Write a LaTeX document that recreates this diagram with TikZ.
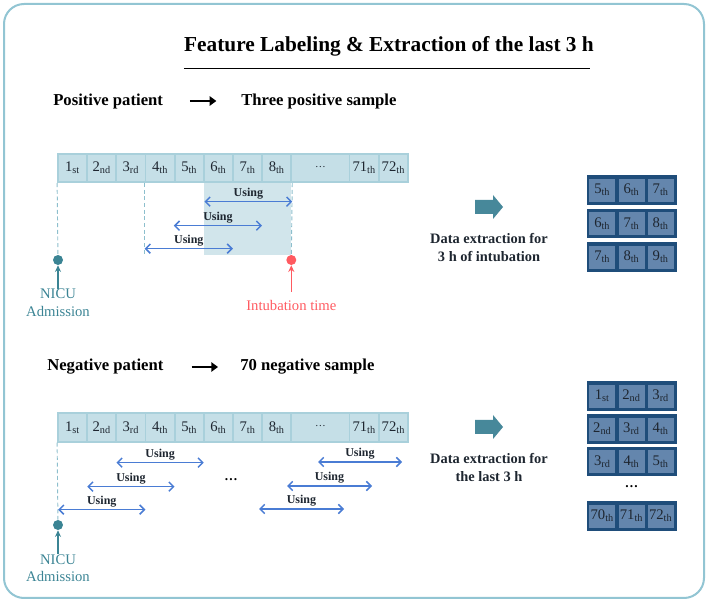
\documentclass[tikz,border=0pt]{standalone}
\usepackage{fontspec}
\setmainfont{Liberation Serif}
\usepackage{tikz}
\usetikzlibrary{arrows.meta,positioning,calc}
\definecolor{cFrame}{HTML}{92C5D3}
\definecolor{cCell}{HTML}{C5DFE7}
\definecolor{cCellLine}{HTML}{A9D0DB}
\definecolor{cShade}{HTML}{D1E5EB}
\definecolor{cGuide}{HTML}{8DBFCD}
\definecolor{cTeal}{HTML}{3B8494}
\definecolor{cRed}{HTML}{FF5A60}
\definecolor{cUse}{HTML}{4A7CD4}
\definecolor{cBoxLine}{HTML}{1F4D7A}
\definecolor{cBoxFill}{HTML}{6486AD}
\definecolor{cBlock}{HTML}{47889A}
\definecolor{cInk}{HTML}{1E2630}
\newcommand{\hrs}[2]{#1\textsubscript{#2}}
\tikzset{
  cell/.style={draw=cCellLine,fill=cCell,line width=1.3pt,minimum width=21.9pt,minimum height=21.4pt,inner sep=0pt,font=\fontsize{11}{11}\selectfont,text=cInk},
  head/.style={font=\fontsize{12.5}{14}\selectfont\bfseries,inner sep=0pt,anchor=west},
  harr/.style={-{Triangle[length=5pt,width=7pt]},line width=2pt,color=black},
  guide/.style={draw=cGuide,dashed,dash pattern=on 3pt off 2pt,line width=0.7pt},
  usearr/.style={{Straight Barb[length=3.5pt,width=7pt]}-{Straight Barb[length=3.5pt,width=7pt]},line width=1.1pt,color=cUse},
  uselbl/.style={above,inner sep=1.5pt,font=\fontsize{9}{9}\selectfont\bfseries,text=cInk},
  mark/.style={circle,fill=#1,inner sep=0pt,minimum size=7.5pt},
  tarr/.style={-{Stealth[length=5pt,width=4.5pt]},line width=1.1pt,color=#1},
  note/.style={font=\fontsize{11}{13.1}\selectfont,text=#1,align=center,inner sep=0pt},
  xtxt/.style={font=\fontsize{10.8}{13.5}\selectfont\bfseries,align=center,text=cInk},
  srow/.style={draw=cBoxLine,fill=cBoxLine,line width=1pt,minimum width=66.5pt,minimum height=21pt,inner sep=0pt},
  scell/.style={draw=cBoxLine,fill=cBoxFill,line width=0.6pt,minimum width=20.2pt,minimum height=18pt,inner sep=0pt,font=\fontsize{11}{11}\selectfont,text=cInk},
}
\begin{document}
\begin{tikzpicture}[x=0.75pt,y=-0.75pt]
  \useasboundingbox (0,0) rectangle (708,602);
  \draw[cFrame,line width=1.5pt,rounded corners=15pt] (4,4) rectangle (704,598);

  % title
  \node[font=\fontsize{16}{18}\selectfont\bfseries,inner sep=0pt] (title) at (389,46) {Feature Labeling \& Extraction of the last 3 h};
  \draw[line width=0.6pt] ($(title.south west)+(0,12)$) -- ($(title.south east)+(-4,12)$);

  % ---- positive patient ----
  \node[head] (pospat) at (53,101) {Positive patient};
  \node[head] (possmp) at (241,101) {Three positive sample};
  \draw[harr,shorten <=20pt,shorten >=18.5pt] (pospat.east) -- (possmp.west);

  \fill[cShade] (203.8,182.5) rectangle (291.3,255);
  \foreach \i/\s in {1/st,2/nd,3/rd,4/th,5/th,6/th,7/th,8/th}
    \node[cell] (p\i) at ({58+29.17*(\i-0.5)},168) {\hrs{\i}{\s}};
  \node[cell,minimum width=43.8pt] (pdots) at (320.5,168) {\raisebox{2pt}{\fontsize{8}{8}\selectfont\dots}};
  \node[cell] (p71) at (364.2,168) {\hrs{71}{th}};
  \node[cell] (p72) at (393.4,168) {\hrs{72}{th}};

  \node[mark=cTeal] (padm) at (58,260) {};
  \node[mark=cRed] (pint) at (291.3,260) {};
  \draw[guide] (p1.south west) -- (padm);
  \draw[guide] (p4.south west) -- ++(0,73);
  \draw[guide] (p8.south east) -- (pint);

  \draw[usearr] ($(p6.south west)+(1.5,18.5)$) -- node[uselbl] {Using} ($(p8.south east)+(0,18.5)$);
  \draw[usearr] ($(p5.south west)+(0,42.5)$) -- node[uselbl] {Using} ($(p7.south east)+(-1,42.5)$);
  \draw[usearr] ($(p4.south west)+(0,65.5)$) -- node[uselbl] {Using} ($(p6.south east)+(-1,65.5)$);

  \node[note=cTeal] (padmlbl) at (58,302.5) {NICU\\Admission};
  \draw[tarr=cTeal] (padmlbl.north) -- (padm);
  \node[note=cRed] (pintlbl) at (291.3,305) {Intubation time};
  \draw[tarr=cRed] ($(pintlbl.north)+(0,-8)$) -- (pint);

  \fill[cBlock] (475,200) -- ++(18,0) -- ++(0,-5) -- ++(10,12) -- ++(-10,12) -- ++(0,-5) -- ++(-18,0) -- cycle;
  \node[xtxt] (pxtxt) at (489,248) {Data extraction for\\3 h of intubation};

  \foreach \k/\yy/\la/\lb/\lc in {1/190/\hrs{5}{th}/\hrs{6}{th}/\hrs{7}{th},
                                  2/223.5/\hrs{6}{th}/\hrs{7}{th}/\hrs{8}{th},
                                  3/257/\hrs{7}{th}/\hrs{8}{th}/\hrs{9}{th}} {
    \node[srow] (ps\k) at (631.5,\yy) {};
    \node[scell] (ps\k-a) at (602.3,\yy) {\la};
    \node[scell] (ps\k-b) at (631.5,\yy) {\lb};
    \node[scell] (ps\k-c) at (660.7,\yy) {\lc};
  }

  % ---- negative patient ----
  \node[head] (negpat) at (47,367) {Negative patient};
  \node[head] (negsmp) at (240,367) {70 negative sample};
  \draw[harr,shorten <=21pt,shorten >=16.5pt] (negpat.east) -- (negsmp.west);

  \foreach \i/\s in {1/st,2/nd,3/rd,4/th,5/th,6/th,7/th,8/th}
    \node[cell] (n\i) at ({58+29.17*(\i-0.5)},427.5) {\hrs{\i}{\s}};
  \node[cell,minimum width=43.8pt] (ndots) at (320.5,427.5) {\raisebox{2pt}{\fontsize{8}{8}\selectfont\dots}};
  \node[cell] (n71) at (364.2,427.5) {\hrs{71}{th}};
  \node[cell] (n72) at (393.4,427.5) {\hrs{72}{th}};

  \node[mark=cTeal] (nadm) at (58,525) {};
  \draw[guide] (n1.south west) -- (nadm);

  \draw[usearr] ($(n3.south west)+(1,20)$) -- node[uselbl] {Using} ($(n5.south east)+(-1,20)$);
  \draw[usearr] ($(n2.south west)+(1,44)$) -- node[uselbl] {Using} ($(n4.south east)+(-1,44)$);
  \draw[usearr] ($(n1.south west)+(1,67)$) -- node[uselbl] {Using} ($(n3.south east)+(-1,67)$);
  \node[font=\bfseries] (ngap) at (231,480) {\dots};
  \coordinate (nr1a) at (318,462); \coordinate (nr1b) at (402,462);
  \coordinate (nr2a) at (287,486); \coordinate (nr2b) at (372,486);
  \coordinate (nr3a) at (259,509); \coordinate (nr3b) at (344,509);
  \draw[usearr] (nr1a) -- node[uselbl] {Using} (nr1b);
  \draw[usearr] (nr2a) -- node[uselbl] {Using} (nr2b);
  \draw[usearr] (nr3a) -- node[uselbl] {Using} (nr3b);

  \node[note=cTeal] (nadmlbl) at (58,568) {NICU\\Admission};
  \draw[tarr=cTeal] (nadmlbl.north) -- (nadm);

  \fill[cBlock] (475,420) -- ++(18,0) -- ++(0,-5) -- ++(10,12) -- ++(-10,12) -- ++(0,-5) -- ++(-18,0) -- cycle;
  \node[xtxt] (nxtxt) at (489,467.5) {Data extraction for\\the last 3 h};

  \foreach \k/\yy/\la/\lb/\lc in {1/396/\hrs{1}{st}/\hrs{2}{nd}/\hrs{3}{rd},
                                  2/429/\hrs{2}{nd}/\hrs{3}{rd}/\hrs{4}{th},
                                  3/461.5/\hrs{3}{rd}/\hrs{4}{th}/\hrs{5}{th},
                                  4/516/\hrs{70}{th}/\hrs{71}{th}/\hrs{72}{th}} {
    \node[srow] (ns\k) at (631.5,\yy) {};
    \node[scell] (ns\k-a) at (602.3,\yy) {\la};
    \node[scell] (ns\k-b) at (631.5,\yy) {\lb};
    \node[scell] (ns\k-c) at (660.7,\yy) {\lc};
  }
  \node[font=\bfseries] (nsgap) at (631.5,487) {\dots};
\end{tikzpicture}
\end{document}
